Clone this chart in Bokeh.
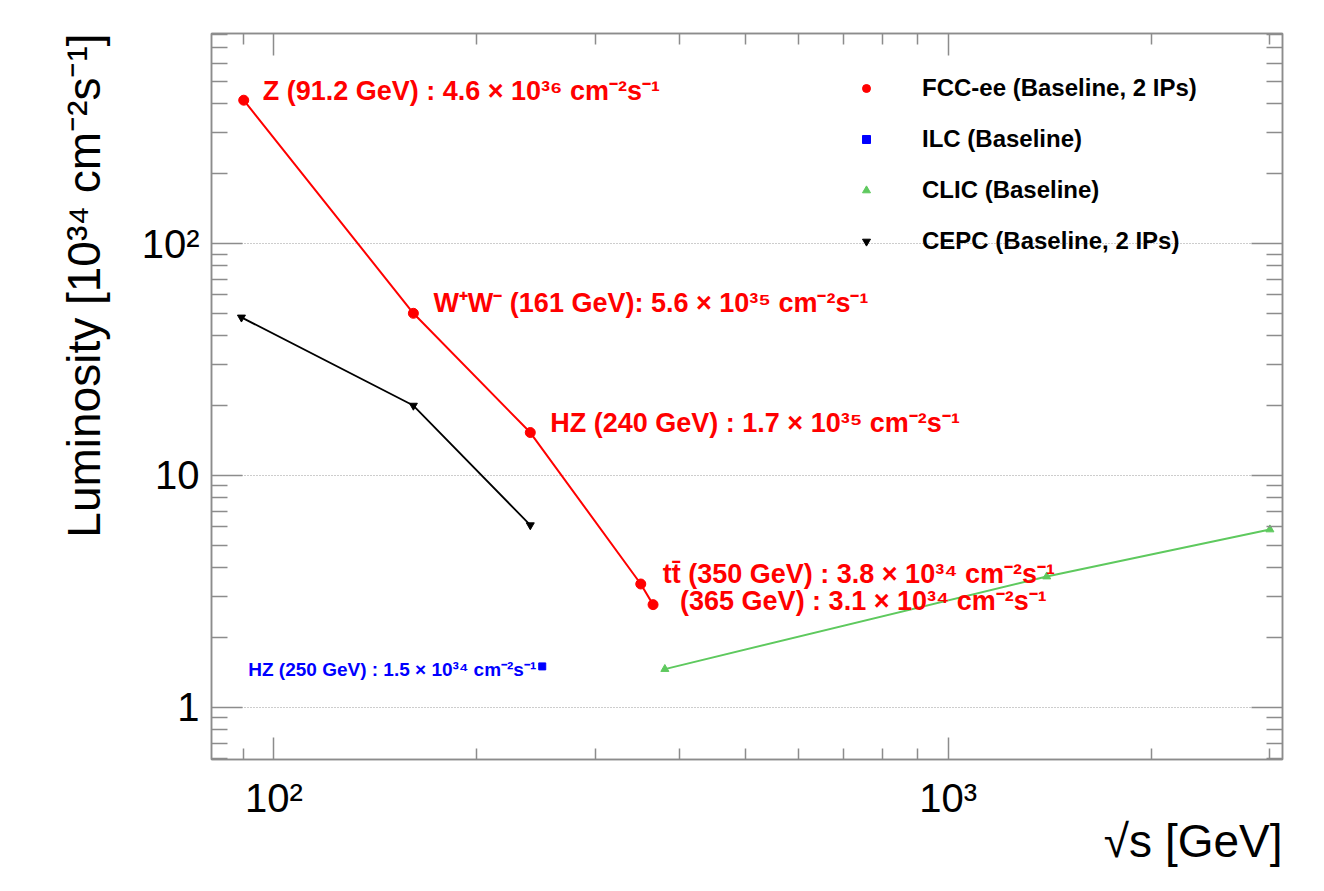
from bokeh.plotting import figure
from bokeh.models import (Range1d, FixedTicker, LogAxis, Legend, LegendItem, Title,
                          CustomJSTickFormatter, ColumnDataSource)
from bokeh.core.properties import value
from bokeh.embed import file_html
from bokeh.resources import INLINE

# FCC-ee (baseline, 2 IPs)
fcc_energy = [90.2, 161, 240, 350, 365]
fcc_lumi = [415, 50, 15.3, 3.4, 2.77]
fcc_labels = ["Z (91.2 GeV) : 4.6 \u00d7 10\u00b3\u2076 cm\u207b\u00b2s\u207b\u00b9",
              "W\u207aW\u207b (161 GeV): 5.6 \u00d7 10\u00b3\u2075 cm\u207b\u00b2s\u207b\u00b9",
              "HZ (240 GeV) : 1.7 \u00d7 10\u00b3\u2075 cm\u207b\u00b2s\u207b\u00b9",
              "tt\u0304 (350 GeV) : 3.8 \u00d7 10\u00b3\u2074 cm\u207b\u00b2s\u207b\u00b9",
              "(365 GeV) : 3.1 \u00d7 10\u00b3\u2074 cm\u207b\u00b2s\u207b\u00b9"]

# ILC (baseline)
ilc_energy = [250]
ilc_lumi = [1.5]
ilc_labels = ["HZ (250 GeV) : 1.5 \u00d7 10\u00b3\u2074 cm\u207b\u00b2s\u207b\u00b9"]

# CLIC (baseline)
clic_energy = [380, 1400, 3000]
clic_lumi = [1.46, 3.66, 5.84]

# CEPC (baseline, 2 IPs)
cepc_energy = [89.5, 161, 240]
cepc_lumi = [48, 20, 6.1]

legend_labels = ["FCC-ee (Baseline, 2 IPs)", "ILC (Baseline)", "CLIC (Baseline)", "CEPC (Baseline, 2 IPs)"]
x_ticks = [100, 1000]
y_ticks = [1, 10, 100]
minor_ticks = [m * 10 ** e for e in range(-1, 4) for m in range(2, 10)]

FONT = "Liberation Sans"

p = figure(x_axis_type="log", y_axis_type="log",
           x_range=Range1d(80.8, 3132), y_range=Range1d(0.595, 805),
           frame_width=1071, frame_height=726,
           min_border_left=211, min_border_top=33, min_border_right=42, min_border_bottom=128,
           output_backend="svg", toolbar_location=None)
p.background_fill_color = "white"
p.border_fill_color = "white"
p.outline_line_color = "#8c8c8c"
p.outline_line_width = 1.5

# ROOT style grid: dotted horizontal lines on the decades only
p.xgrid.visible = False
p.ygrid.ticker = FixedTicker(ticks=y_ticks)
p.ygrid.grid_line_color = "#9a9a9a"
p.ygrid.grid_line_dash = "1 2"
p.ygrid.grid_line_width = 1

tick_fmt = CustomJSTickFormatter(code="""
    const m = {1: '1', 10: '10', 100: '10\u00b2', 1000: '10\u00b3'};
    const k = Math.round(tick);
    return (k in m) ? m[k] : '';
""")
blank_fmt = CustomJSTickFormatter(code="return '';")


def style_axis(ax, ticks, major_len, minor_len, standoff=12, labels=True):
    ax.ticker = FixedTicker(ticks=ticks, minor_ticks=minor_ticks)
    ax.axis_line_color = "#8c8c8c"
    ax.axis_line_width = 1.5
    ax.major_tick_line_color = "#8c8c8c"
    ax.minor_tick_line_color = "#8c8c8c"
    ax.major_tick_line_width = 1.5
    ax.minor_tick_line_width = 1.5
    ax.major_tick_in = major_len
    ax.major_tick_out = 0
    ax.minor_tick_in = minor_len
    ax.minor_tick_out = 0
    if labels:
        ax.formatter = tick_fmt
        ax.major_label_text_font = FONT
        ax.major_label_text_font_size = "40px"
        ax.major_label_text_color = "black"
        ax.major_label_standoff = standoff
    else:
        ax.formatter = blank_fmt
        ax.major_label_text_font_size = "0px"
        ax.major_label_standoff = 0


style_axis(p.xaxis[0], x_ticks, 22, 11, standoff=16)
style_axis(p.yaxis[0], y_ticks, 31, 16, standoff=12)
top_axis = LogAxis()
right_axis = LogAxis()
style_axis(top_axis, x_ticks, 22, 11, labels=False)
style_axis(right_axis, y_ticks, 31, 16, labels=False)
p.add_layout(top_axis, "above")
p.add_layout(right_axis, "right")

p.add_layout(Title(text="\u221as [GeV]", align="right", text_font=FONT, text_font_size="46px",
                   text_font_style="normal", text_color="black", standoff=-20), "below")
p.add_layout(Title(text="Luminosity [10\u00b3\u2074 cm\u207b\u00b2s\u207b\u00b9]", align="right",
                   text_font=FONT, text_font_size="46px", text_font_style="normal",
                   text_color="black", standoff=58), "left")

RED = "#ff0000"
BLUE = "#0000ff"
GREEN = "#5ec95e"

p.line(fcc_energy, fcc_lumi, line_color=RED, line_width=2)
fcc_pts = p.scatter(fcc_energy, fcc_lumi, marker="circle", size=10, color=RED)

p.line(cepc_energy, cepc_lumi, line_color="black", line_width=1.8)
cepc_pts = p.scatter(cepc_energy, cepc_lumi, marker="inverted_triangle", size=8, color="black")

p.line(clic_energy, clic_lumi, line_color=GREEN, line_width=2)
clic_pts = p.scatter(clic_energy, clic_lumi, marker="triangle", size=8, color=GREEN)

ilc_pts = p.scatter(ilc_energy, ilc_lumi, marker="square", size=7, color=BLUE)

# value labels next to the points (pixel offsets from each point)
fcc_src = ColumnDataSource(dict(x=fcc_energy, y=fcc_lumi, text=fcc_labels,
                                dx=[19, 20, 20, 22, 27], dy=[-9, -10, -10, -10, -4]))
p.text(x="x", y="y", text="text", x_offset="dx", y_offset="dy", source=fcc_src,
       text_font=value(FONT), text_font_style="bold", text_font_size="27px",
       text_color=RED, text_baseline="alphabetic", text_align="left")

ilc_src = ColumnDataSource(dict(x=ilc_energy, y=ilc_lumi, text=ilc_labels))
p.text(x="x", y="y", text="text", x_offset=-6, y_offset=3, source=ilc_src,
       text_font=value(FONT), text_font_style="bold", text_font_size="19px",
       text_color=BLUE, text_baseline="alphabetic", text_align="right")

legend = Legend(items=[LegendItem(label=legend_labels[0], renderers=[fcc_pts]),
                       LegendItem(label=legend_labels[1], renderers=[ilc_pts]),
                       LegendItem(label=legend_labels[2], renderers=[clic_pts]),
                       LegendItem(label=legend_labels[3], renderers=[cepc_pts])],
                location=(645, 504), padding=0, margin=0, spacing=23,
                glyph_width=20, glyph_height=24, label_height=24, label_standoff=46,
                label_text_font=FONT, label_text_font_style="bold", label_text_font_size="24px",
                label_text_color="black",
                background_fill_alpha=0, border_line_alpha=0)
p.add_layout(legend)

open("out.html", "w").write(file_html(p, INLINE))
